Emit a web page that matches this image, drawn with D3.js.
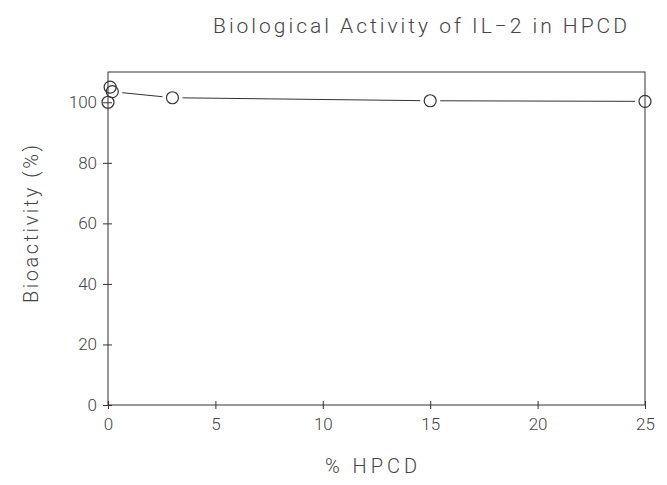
<!DOCTYPE html>
<html>
<head>
<meta charset="utf-8">
<script src="https://cdn.jsdelivr.net/npm/d3@7"></script>
<style>
  body { margin: 0; background: #fff; }
  text { font-family: "Roboto", "DejaVu Sans", sans-serif; font-weight: 300; fill: #444; }
</style>
</head>
<body>
<script>
// data
let hpcd = [0, 0.1, 0.2, 3, 15, 25];
let bioactivity = [100, 105, 103.5, 101.5, 100.5, 100.3];
let xTicks = [0, 5, 10, 15, 20, 25];
let yTicks = [0, 20, 40, 60, 80, 100];

let points = hpcd.map(function(d, i){
  return {x: d, y: bioactivity[i]};
});

let viz = d3.select("body")
  .append("svg")
    .attr("width", 667)
    .attr("height", 485)
;

let x = d3.scaleLinear().domain([0, 25]).range([108, 645]);
let y = d3.scaleLinear().domain([0, 110]).range([405, 72]);

// frame
viz.append("rect")
  .attr("x", x(0))
  .attr("y", y(110))
  .attr("width", x(25) - x(0))
  .attr("height", y(0) - y(110))
  .attr("fill", "none")
  .attr("stroke", "#333")
  .attr("stroke-width", 1)
;

// axes, ticks cross the line
let xAxis = viz.append("g")
  .attr("transform", "translate(0," + y(0) + ")")
  .call(d3.axisBottom(x).tickValues(xTicks).tickSizeInner(4).tickSizeOuter(0).tickPadding(9));
xAxis.select(".domain").remove();
xAxis.selectAll(".tick line").attr("y1", -4).attr("stroke", "#333");
xAxis.selectAll(".tick text").style("font-size", "17px");

let yAxis = viz.append("g")
  .attr("transform", "translate(" + x(0) + ",0)")
  .call(d3.axisLeft(y).tickValues(yTicks).tickSizeInner(5).tickSizeOuter(0).tickPadding(6));
yAxis.select(".domain").remove();
yAxis.selectAll(".tick line").attr("x1", 4).attr("stroke", "#333");
yAxis.selectAll(".tick text").style("font-size", "17px");

// line with gaps around the markers
let r = 6;
let segs = [];
for (let i = 0; i < points.length - 1; i++){
  let x1 = x(points[i].x), y1 = y(points[i].y);
  let x2 = x(points[i + 1].x), y2 = y(points[i + 1].y);
  let len = Math.hypot(x2 - x1, y2 - y1);
  let cut = r + 4;
  if (len > 2 * cut){
    let ux = (x2 - x1) / len, uy = (y2 - y1) / len;
    segs.push([x1 + ux * cut, y1 + uy * cut, x2 - ux * cut, y2 - uy * cut]);
  }
}

viz.selectAll("line.seg").data(segs)
  .enter()
    .append("line")
    .attr("class", "seg")
    .attr("x1", function(d){ return d[0]; })
    .attr("y1", function(d){ return d[1]; })
    .attr("x2", function(d){ return d[2]; })
    .attr("y2", function(d){ return d[3]; })
    .attr("stroke", "#333")
    .attr("stroke-width", 1)
;

viz.selectAll("circle").data(points)
  .enter()
    .append("circle")
    .attr("cx", function(d){ return x(d.x); })
    .attr("cy", function(d){ return y(d.y); })
    .attr("r", r)
    .attr("fill", "none")
    .attr("stroke", "#333")
    .attr("stroke-width", 1.2)
;

// labels
viz.append("text")
  .attr("x", 420)
  .attr("y", 33)
  .attr("text-anchor", "middle")
  .attr("textLength", 414)
  .style("font-size", "21px")
  .text("Biological Activity of IL\u22122 in HPCD");

viz.append("text")
  .attr("x", 371)
  .attr("y", 473)
  .attr("text-anchor", "middle")
  .attr("textLength", 92)
  .style("font-size", "20px")
  .text("% HPCD");

viz.append("text")
  .attr("transform", "translate(38,224) rotate(-90)")
  .attr("text-anchor", "middle")
  .attr("textLength", 158)
  .style("font-size", "20px")
  .text("Bioactivity (%)");
</script>
</body>
</html>
